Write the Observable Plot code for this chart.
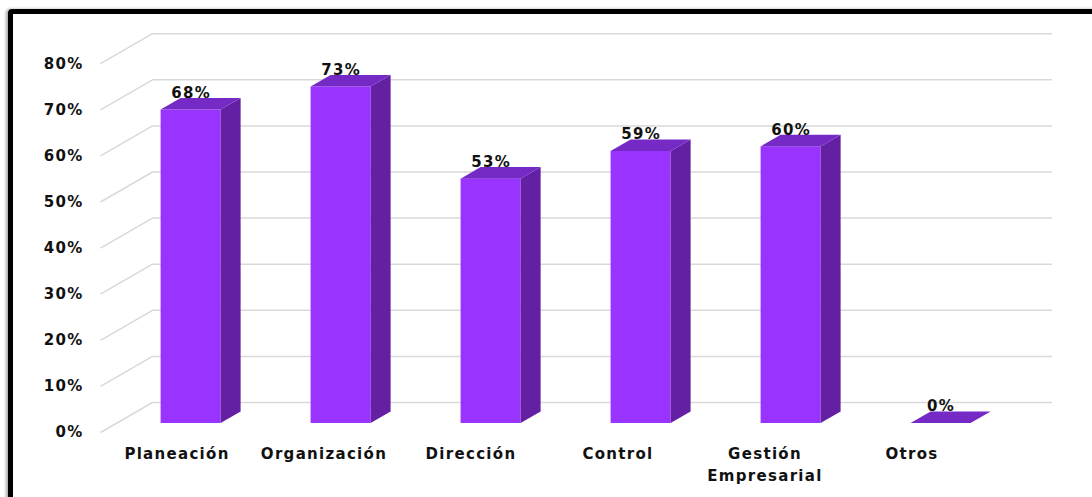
<!DOCTYPE html>
<html>
<head>
<meta charset="utf-8">
<script src="https://cdn.jsdelivr.net/npm/d3@7"></script>
<script src="https://cdn.jsdelivr.net/npm/@observablehq/plot@0.6"></script>
<style>
  html, body { margin: 0; padding: 0; background: #fff; overflow: hidden; width: 1092px; height: 497px; }
  #frame { position: absolute; left: 8px; top: 9px; width: 1200px; height: 600px; border: 5px solid #000; border-radius: 4px; box-shadow: -2px 0 3px #aaa; box-sizing: border-box; }
  #chart { position: absolute; left: 0; top: 0; }
  .plotchart text { letter-spacing: 1.3px; }
</style>
</head>
<body>
<div id="frame"></div>
<div id="chart"></div>
<script>
// ---- data ----
const categories = ["Planeación", "Organización", "Dirección", "Control", "Gestión\nEmpresarial", "Otros"];
const values = [0.68, 0.73, 0.53, 0.59, 0.60, 0.00];
const yTicks = [0, 0.1, 0.2, 0.3, 0.4, 0.5, 0.6, 0.7, 0.8];
const yTickLabels = ["0%", "10%", "20%", "30%", "40%", "50%", "60%", "70%", "80%"];

// ---- layout (pixels) ----
const W = 1092, H = 497;
const frontLeftPx = 100, bandPx = 150;      // front plane: category band width
const zeroPx = 432, pxPerUnit = 461;        // front plane: value 0 and scale
const depthDX = 52, depthDY = 30;           // full 3D depth offset in px
const du = depthDX / bandPx, dv = depthDY / pxPerUnit;
const fFront = 0.3, fBack = 0.685;          // bar front/back depth fractions
const barL = 0.3, barR = 0.7;               // bar extent within band
const labelSpread = 0.98;                   // category label spacing factor

const xDomain = [(0 - frontLeftPx) / bandPx, (W - frontLeftPx) / bandPx];
const yDomain = [(zeroPx - H) / pxPerUnit, zeroPx / pxPerUnit];

const colFront = "#9933ff", colSide = "#6320a3", colTop = "#752ac6";
const grid = "#d9d9d9";

const bars = categories.map((c, i) => ({cat: c, i, v: values[i]}));

const sidePts = bars.flatMap(b => [
  {cat: b.cat, x: b.i + barR + fFront * du, y1: fFront * dv, y2: b.v + fFront * dv},
  {cat: b.cat, x: b.i + barR + fBack * du, y1: fBack * dv, y2: b.v + fBack * dv}
]);
const topPts = bars.flatMap(b => [
  {cat: b.cat, y: b.v + fFront * dv, x1: b.i + barL + fFront * du, x2: b.i + barR + fFront * du},
  {cat: b.cat, y: b.v + fBack * dv, x1: b.i + barL + fBack * du, x2: b.i + barR + fBack * du}
]);

const font = "'DejaVu Sans', Verdana, sans-serif";

const chart = Plot.plot({
  width: W, height: H,
  marginTop: 0, marginRight: 0, marginBottom: 0, marginLeft: 0,
  className: "plotchart",
  style: {fontFamily: font, background: "transparent", overflow: "visible"},
  x: {type: "linear", domain: xDomain, axis: null},
  y: {type: "linear", domain: yDomain, axis: null},
  marks: [
    // side wall diagonal gridlines
    Plot.link(yTicks, {x1: 0, y1: d => d, x2: du, y2: d => d + dv, stroke: grid, strokeWidth: 1.5}),
    // back wall gridlines
    Plot.ruleY(yTicks, {y: d => d + dv, x1: du, x2: categories.length + du, stroke: grid, strokeWidth: 1.5}),
    // bar front faces
    Plot.rect(bars.filter(b => b.v > 0), {
      x1: b => b.i + barL + fFront * du, x2: b => b.i + barR + fFront * du,
      y1: fFront * dv, y2: b => b.v + fFront * dv, fill: colFront
    }),
    // bar side faces
    Plot.areaY(sidePts.filter(p => p.y2 > p.y1), {x: "x", y1: "y1", y2: "y2", z: "cat", fill: colSide}),
    // bar top faces
    Plot.areaX(topPts, {y: "y", x1: "x1", x2: "x2", z: "cat", fill: colTop}),
    // value labels
    Plot.text(bars, {
      x: b => b.i + 0.5 + fFront * du, y: b => b.v + fBack * dv,
      text: b => Math.round(b.v * 100) + "%", lineAnchor: "bottom", dy: -0.5,
      fontSize: 15, fontWeight: "bold", fill: "#111"
    }),
    // y tick labels
    Plot.text(yTicks, {
      x: 0, y: d => d, text: (d, i) => yTickLabels[i], textAnchor: "end", dx: -17,
      fontSize: 15, fontWeight: "bold", fill: "#111"
    }),
    // category labels
    Plot.text(bars, {
      x: b => 0.51 + b.i * labelSpread, y: -0.0282, text: "cat", lineAnchor: "top", dy: -2,
      lineHeight: 1.47, fontSize: 15, fontWeight: "bold", fill: "#111"
    })
  ]
});
document.getElementById("chart").appendChild(chart);
</script>
</body>
</html>
